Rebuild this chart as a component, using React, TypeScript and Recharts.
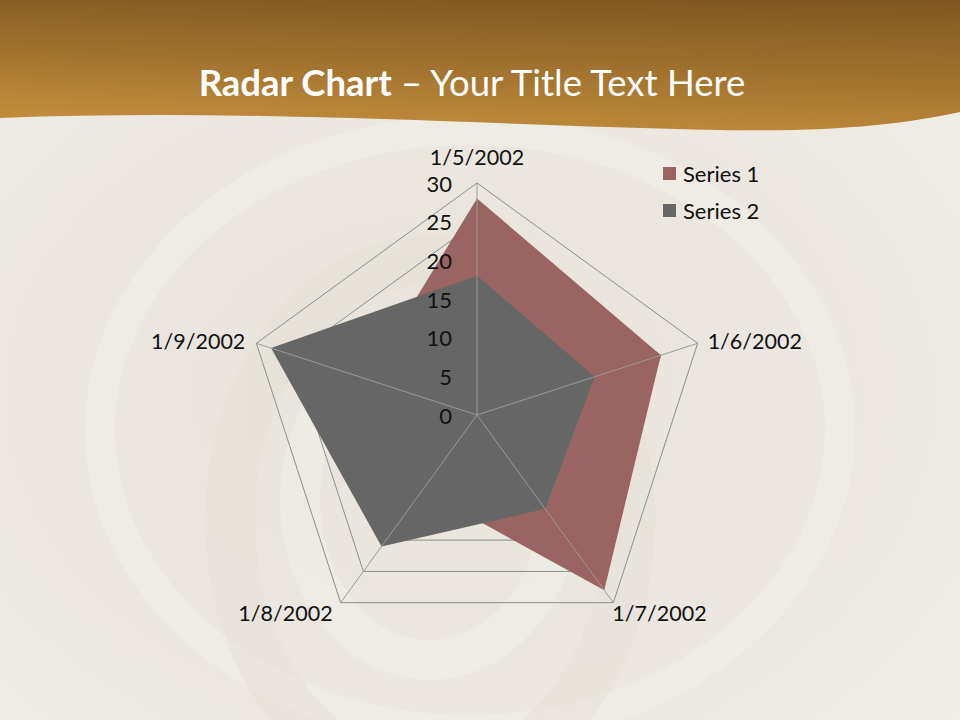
import React from 'react';
import { RadarChart, Radar, PolarGrid, PolarAngleAxis, PolarRadiusAxis, Legend } from 'recharts';

const categories = ['1/5/2002', '1/6/2002', '1/7/2002', '1/8/2002', '1/9/2002'];
const series1 = [28, 25, 28, 12, 15];
const series2 = [18, 16, 15, 21, 28];
const seriesNames = ['Series 1', 'Series 2'];
const seriesColors = ['#9a6463', '#666666'];
const radiusTicks = [0, 5, 10, 15, 20, 25, 30];

const data = categories.map((c, i) => ({ name: c, s1: series1[i], s2: series2[i] }));

const FONT = 'Lato, "Open Sans", sans-serif';

const AngleTick = (props: any) => {
  const { cx, cy, radius, payload } = props;
  const a = (payload.coordinate * Math.PI) / 180;
  const vx = cx + radius * Math.cos(a);
  const vy = cy - radius * Math.sin(a);
  const c = Math.cos(a);
  const s = Math.sin(a);
  let x = vx;
  let y = vy;
  let anchor: 'start' | 'middle' | 'end' = 'middle';
  if (Math.abs(c) < 0.1) {
    y = vy - 26;
  } else if (s > 0) {
    anchor = c > 0 ? 'start' : 'end';
    x = vx + (c > 0 ? 10 : -11);
    y = vy - 2;
  } else {
    anchor = c > 0 ? 'start' : 'end';
    x = vx + (c > 0 ? -1 : -8);
    y = vy + 10;
  }
  return (
    <g>
      <line x1={cx} y1={cy} x2={vx} y2={vy} stroke="#9a9a9a" strokeWidth={1} />
      <text x={x} y={y} textAnchor={anchor} dominantBaseline="central" fontFamily={FONT} fontSize={21.5} fill="#111">
        {payload.value}
      </text>
    </g>
  );
};

const RadiusTick = (props: any) => {
  const { x, y, payload } = props;
  return (
    <text x={x - 25} y={y} textAnchor="end" dominantBaseline="central" fontFamily={FONT} fontSize={22} fill="#111">
      {payload.value}
    </text>
  );
};

const LegendContent = () => (
  <div style={{ fontFamily: FONT, fontSize: 22, color: '#111' }}>
    {seriesNames.map((n, i) => (
      <div key={n} style={{ display: 'flex', alignItems: 'center', height: 37 }}>
        <span style={{ display: 'inline-block', width: 13, height: 13, background: seriesColors[i], marginRight: 7 }} />
        <span>{n}</span>
      </div>
    ))}
  </div>
);

const Background = () => (
  <svg width={960} height={720} style={{ position: 'absolute', left: 0, top: 0 }}>
    <defs>
      <radialGradient id="bg" cx="45%" cy="55%" r="75%">
        <stop offset="0%" stopColor="#e8e4dc" />
        <stop offset="60%" stopColor="#ece8e1" />
        <stop offset="100%" stopColor="#f1eee8" />
      </radialGradient>
      <linearGradient id="band" x1="0" y1="0" x2="0" y2="1">
        <stop offset="0%" stopColor="#8a5e25" />
        <stop offset="100%" stopColor="#c8923f" />
      </linearGradient>
      <linearGradient id="bandShade" x1="0" y1="0" x2="1" y2="0">
        <stop offset="0%" stopColor="#000" stopOpacity={0} />
        <stop offset="100%" stopColor="#3a2000" stopOpacity={0.12} />
      </linearGradient>
    </defs>
    <rect x={0} y={0} width={960} height={720} fill="url(#bg)" />
    <ellipse cx={470} cy={430} rx={370} ry={300} fill="none" stroke="#f3f0eb" strokeWidth={30} opacity={0.45} />
    <ellipse cx={430} cy={520} rx={200} ry={260} fill="none" stroke="#e2ddd4" strokeWidth={50} opacity={0.35} />
    <ellipse cx={430} cy={500} rx={130} ry={160} fill="none" stroke="#f4f1ec" strokeWidth={40} opacity={0.45} />
    <path d="M0,0 L960,0 L960,112 C900,125 830,132 720,130 C500,126 250,108 0,118 Z" fill="url(#band)" />
    <path d="M0,0 L960,0 L960,112 C900,125 830,132 720,130 C500,126 250,108 0,118 Z" fill="url(#bandShade)" />
  </svg>
);

export default function App() {
  return (
    <div style={{ position: 'fixed', left: 0, top: 0, width: 960, height: 720, overflow: 'hidden', background: '#ece8e0' }}>
      <Background />
      <div
        style={{
          position: 'absolute',
          left: 0,
          top: 57,
          width: 944,
          textAlign: 'center',
          color: '#ffffff',
          fontFamily: FONT,
          fontSize: 36.5,
          lineHeight: '50px',
        }}
      >
        <span style={{ fontWeight: 700 }}>Radar Chart</span> – Your Title Text Here
      </div>
      <div style={{ position: 'absolute', left: 0, top: 0 }}>
        <RadarChart width={960} height={720} data={data} cx={477} cy={415} outerRadius={232} margin={{ top: 0, right: 0, bottom: 0, left: 0 }}>
          <PolarGrid gridType="polygon" radialLines={false} stroke="#8c8c8c" strokeWidth={1} />
          <Radar name={seriesNames[0]} dataKey="s1" stroke="none" fill={seriesColors[0]} fillOpacity={1} isAnimationActive={false} />
          <Radar name={seriesNames[1]} dataKey="s2" stroke="none" fill={seriesColors[1]} fillOpacity={1} isAnimationActive={false} />
          <PolarAngleAxis dataKey="name" axisLine={false} tickLine={false} tick={<AngleTick />} />
          <PolarRadiusAxis angle={90} domain={[0, 30]} ticks={radiusTicks as any} tickCount={7} axisLine={false} tickLine={false} tick={<RadiusTick />} />
          <Legend
            content={<LegendContent />}
            wrapperStyle={{ position: 'absolute', left: 663, top: 155, width: 150, height: 80 }}
          />
        </RadarChart>
      </div>
    </div>
  );
}
